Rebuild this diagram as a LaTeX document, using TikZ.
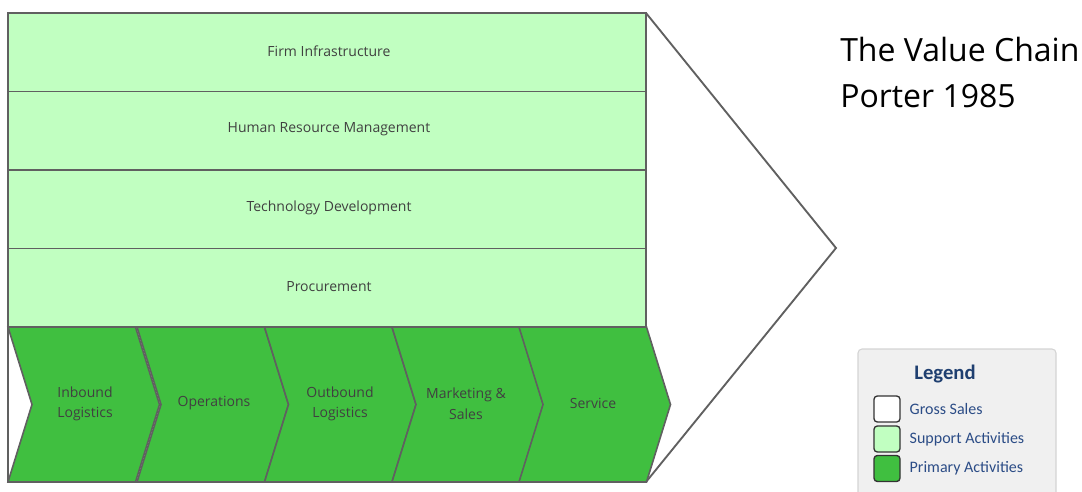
\documentclass[tikz,border=0pt]{standalone}
\usepackage{fontspec}
\setmainfont{Open Sans}
\newfontfamily\legfont{Carlito}
\definecolor{supportc}{HTML}{C1FFC1}
\definecolor{primaryc}{HTML}{40BF40}
\definecolor{edgec}{HTML}{606060}
\definecolor{labelc}{HTML}{404040}
\definecolor{legbg}{HTML}{F0F0F0}
\definecolor{legedge}{HTML}{D4D4D4}
\definecolor{legblue}{HTML}{1F3F70}
\definecolor{legtext}{HTML}{2B4C86}
\begin{document}
\begin{tikzpicture}[x=0.75pt,y=-0.75pt,
  outline/.style={draw=edgec,line width=1.4pt,line join=miter},
  supportbox/.style={outline,fill=supportc},
  primarybox/.style={outline,fill=primaryc,line width=1.2pt},
  lbl/.style={font=\fontsize{10.5}{15.5}\selectfont,text=labelc,align=center},
  legsq/.style={draw=black!80,line width=1pt,rounded corners=2.5pt},
  legtxt/.style={font=\legfont\fontsize{12}{14}\selectfont,text=legtext,anchor=west}]
\useasboundingbox (0,0) rectangle (1082,492);
% big arrow (gross sales)
\path[fill=white] (8,13) -- (646,13) -- (836,248) -- (646,482) -- (8,482) -- cycle;
% support activities
\foreach \t/\b in {13/91.5,91.5/170,170/248.5,248.5/327}{
  \draw[supportbox] (8,\t) rectangle (646,\b);
}
\node[lbl] (firm) at (329,51) {Firm Infrastructure};
\node[lbl] (hrm) at (329,129.5) {Human Resource Management};
\node[lbl] (tech) at (329,208) {Technology Development};
\node[lbl] (proc) at (329,286.5) {Procurement};
% primary activities
\foreach \L in {8,137,264.5,392,519}{
  \draw[primarybox] (\L,327) -- ({\L+127.5},327) -- ({\L+127.5+24},404.5) -- ({\L+127.5},482) -- (\L,482) -- ({\L+24},404.5) -- cycle;
}
\node[lbl] (inb) at (85,404) {Inbound\\Logistics};
\node[lbl] (ops) at (214,403) {Operations};
\node[lbl] (outb) at (340,404) {Outbound\\Logistics};
\node[lbl] (mkt) at (466,404) {Marketing \&\\Sales};
\node[lbl] (serv) at (593,403) {Service};
% outline
\draw[outline] (646,13) -- (836,248) -- (646,482);
\draw[outline] (8,13) -- (646,13);
\draw[outline] (8,13) -- (8,482) -- (646,482);
% title
\node[anchor=west,align=left,font=\fontsize{24}{34.5}\selectfont,text=black,inner sep=0pt] (title) at (840,73) {The Value Chain\\Porter 1985};
% legend
\draw[fill=legbg,draw=legedge,line width=0.8pt,rounded corners=3pt] (858,349) rectangle (1056,500);
\node[font=\legfont\bfseries\fontsize{15.5}{18}\selectfont,text=legblue] (legtitle) at (945,374) {Legend};
\draw[legsq,fill=white] (874,396) rectangle (900,422);
\draw[legsq,fill=supportc] (874,426) rectangle (900,452);
\draw[legsq,fill=primaryc] (874,455.5) rectangle (900,481.5);
\node[legtxt] (lg1) at (905,409) {Gross Sales};
\node[legtxt] (lg2) at (905,439) {Support Activities};
\node[legtxt] (lg3) at (905,468.5) {Primary Activities};
\end{tikzpicture}
\end{document}
